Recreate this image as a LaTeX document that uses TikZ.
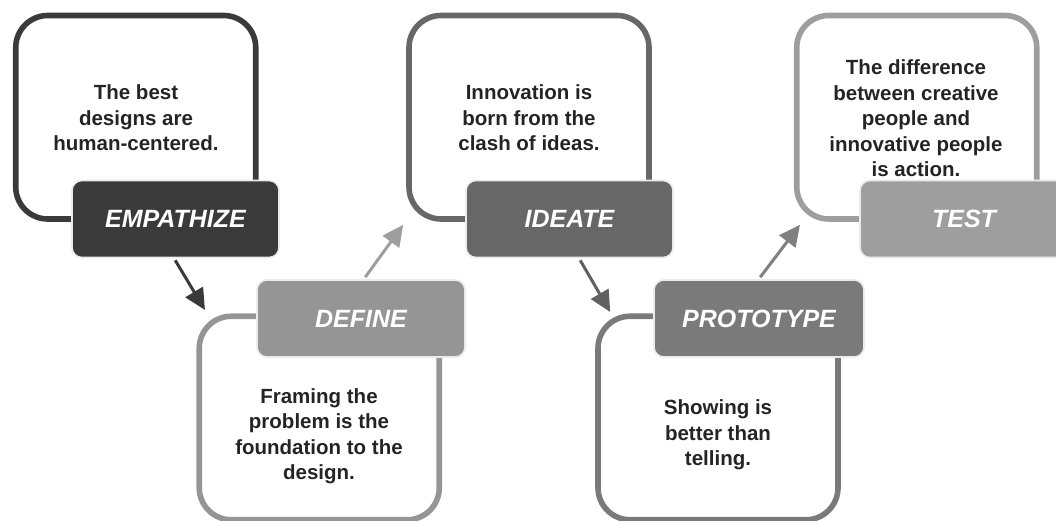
\documentclass[tikz,border=0pt]{standalone}
\usepackage{fontspec}
\setmainfont{Liberation Sans}
\usetikzlibrary{arrows.meta,calc}

\definecolor{cEmp}{HTML}{3A3A3A}
\definecolor{cIde}{HTML}{676767}
\definecolor{cTst}{HTML}{9E9E9E}
\definecolor{cDef}{HTML}{959595}
\definecolor{cPro}{HTML}{7A7A7A}

\tikzset{
  quotebox/.style={draw=#1, line width=5.6pt, rounded corners=32pt, fill=none,
    minimum width=240pt, minimum height=203.5pt, inner sep=0pt},
  stagebox/.style={fill=#1, draw=white!92!black, line width=1.6pt, rounded corners=10pt,
    minimum width=207pt, minimum height=77pt, inner sep=0pt, text=white,
    font=\fontsize{25}{28}\selectfont\bfseries\itshape},
  quotetext/.style={align=center, text=black!86,
    font=\fontsize{20.5}{25.5}\selectfont\bfseries},
  flow/.style={draw=#1, line width=3pt, -{Triangle[length=21pt,width=20pt]}}
}

\begin{document}
\begin{tikzpicture}[x=1pt, y=-1pt]
  \fill[white] (0,0) rectangle (1056,520);
  \useasboundingbox (0,0) rectangle (1056,520);

  % outlined quote frames
  \node[quotebox=cEmp] (empQ) at (135.75,117.25) {};
  \node[quotebox=cIde] (ideQ) at (529,117.25) {};
  \node[quotebox=cTst] (tstQ) at (916.75,117.25) {};
  \node[quotebox=cDef] (defQ) at (319.25,418) {};
  \node[quotebox=cPro] (proQ) at (718,418) {};

  % quotes
  \node[quotetext] (empT) at (136,118) {The best\\designs are\\human-centered.};
  \node[quotetext] (ideT) at (529,118) {Innovation is\\born from the\\clash of ideas.};
  \node[quotetext] (tstT) at (916,118.5) {The difference\\between creative\\people and\\innovative people\\is action.};
  \node[quotetext] (defT) at (319,436) {Framing the\\problem is the\\foundation to the\\design.};
  \node[quotetext] (proT) at (718,435) {Showing is\\better than\\telling.};

  % stage labels
  \node[stagebox=cEmp] (emp) at (175.5,219) {EMPATHIZE};
  \node[stagebox=cIde] (ide) at (569.5,219) {IDEATE};
  \node[stagebox=cTst, minimum width=208pt] (tst) at (964,219) {TEST};
  \node[stagebox=cDef, minimum width=208pt] (def) at (361,318.5) {DEFINE};
  \node[stagebox=cPro, minimum width=210pt] (pro) at (759,318.5) {PROTOTYPE};

  % flow between stages
  \draw[flow=cEmp] ($(emp.south west)+(104,2)$) -- ($(defQ.north west)+(8.5,-3.5)$);
  \draw[flow=cTst] ($(def.north west)+(109,-2)$) -- ($(ideQ.south west)+(-3,3)$);
  \draw[flow=black!62] ($(ide.south west)+(115,2)$) -- ($(proQ.north west)+(15,-1.5)$);
  \draw[flow=black!50] ($(pro.north west)+(107,-2)$) -- ($(tstQ.south west)+(6,3)$);
\end{tikzpicture}
\end{document}
